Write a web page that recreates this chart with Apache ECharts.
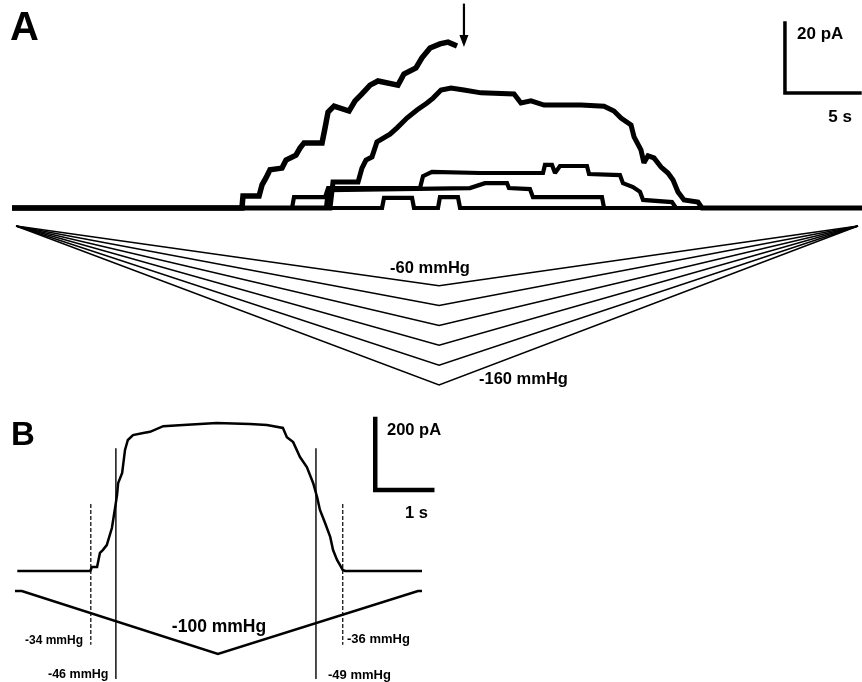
<!DOCTYPE html>
<html><head><meta charset="utf-8">
<script src="https://cdn.jsdelivr.net/npm/echarts@6/dist/echarts.min.js"></script>
<style>html,body{margin:0;padding:0;background:#fff}#c{width:862px;height:682px}</style>
</head><body><div id="c"></div>
<script>
// ---------- DATA (time in s, current in pA, pressure in mmHg) ----------
// Panel A: five current traces
const traceA1_t = [0,15.33,15.4,16.47,16.67,16.93,17.2,18.0,18.27,18.93,19.2,19.47,20.67,20.87,21.07,21.47,22.47,22.87,23.33,23.87,24.4,25.73,26.13,26.93,27.33,27.87,28.53,29.07,29.67];
const traceA1_I = [0,0,3.4,3.4,6.6,8.6,10.9,11.4,13.7,15.1,17.1,18.6,18.6,22.9,27.4,29.1,27.7,30.6,32.6,35.1,36.3,35.1,38.3,40.0,42.9,45.7,46.9,47.4,46.3];
const traceA2_t = [0,21.2,21.4,23.07,23.33,23.6,24.0,24.33,25.2,25.67,26.33,27.0,27.67,28.07,28.6,29.27,30.13,31.27,33.47,33.93,34.6,35.47,37.93,39.47,40.13,40.6,41.27,41.47,41.93,42.13,42.4,42.8,43.27,43.73,44.07,44.4,44.8,45.73,46.0,56.67];
const traceA2_I = [0,0,7.4,7.4,11.4,13.7,14.6,18.9,21.1,22.9,25.7,28.0,30.0,31.4,33.7,34.3,33.7,32.9,32.6,30.0,30.6,29.4,29.4,29.1,27.7,25.7,23.7,20.3,16.6,12.9,14.9,14.3,11.7,10.0,8.0,4.6,2.3,1.7,0,0];
const traceA3_t = [0,18.67,18.8,20.87,21.07,27.2,27.4,28.0,31.2,35.4,35.53,36.0,36.2,36.53,38.33,38.47,40.53,40.73,41.4,41.87,42.07,44.0,44.27,56.67];
const traceA3_I = [0,0,3.1,3.1,5.7,5.7,9.1,10.3,10.0,10.0,12.3,12.3,10.0,12.0,12.0,9.7,9.4,7.1,6.0,4.6,2.3,1.7,0,0];
const traceA4_t = [0,20.93,21.07,30.53,31.53,33.0,33.13,34.53,34.73,39.33,39.47,56.67];
const traceA4_I = [0,0,5.1,5.7,7.1,7.1,5.7,5.4,3.1,3.1,0,0];
const traceA5_t = [0,24.67,24.8,26.67,26.8,28.4,28.53,29.73,29.87,56.67];
const traceA5_I = [0,0,2.9,2.9,0,0,3.1,3.1,0,0];
// Panel A: pressure ramps (start, peak, end time) and peak pressures
const rampA_t = [0.27, 28.47, 56.4];
const rampA_peaks = [-60, -80, -100, -120, -140, -160];
// Panel A: arrow time and scale bar (5 s, 20 pA)
const arrowA_t = 30.13;
const scaleA = {t: 51.53, I: 32.86, dt: 5, dI: 20};

// Panel B: current trace
const traceB_t = [0.04,1.32,1.35,1.44,1.49,1.54,1.61,1.70,1.75,1.79,1.81,1.88,1.93,1.98,2.07,2.25,2.37,2.60,2.95,3.54,4.12,4.42,4.70,4.77,4.88,5.00,5.12,5.23,5.30,5.35,5.44,5.53,5.58,5.65,5.70,5.75,5.79,7.14];
const traceB_I = [0,0,11,11,51,59,73,121,172,214,248,276,341,369,383,389,392,408,411,417,414,411,403,377,363,321,293,248,208,172,135,96,59,31,17,3,0,0];
// Panel B: pressure ramp to -100 mmHg
const rampB_t = [0, 0.12, 3.56, 7.07, 7.14];
const rampB_P = [0, 0, -100, 0, 0];
// Panel B: event markers (threshold -34/-36 dashed, -46/-49 solid)
const dashedB_t = [1.33, 5.75];
const solidB_t = [1.77, 5.28];
const scaleB = {t: 6.32, I: 228, dt: 1, dI: 200};

// ---------- LAYOUT ----------
const gA = {left: 12, top: 0, width: 850, height: 400};
const gB = {left: 15, top: 405, width: 420, height: 277};
const A = {pxPerS: 15, zeroI: 208, pxPerPA: 3.5, zeroP: 226, pxPerMmHg: 0.994};
const B = {pxPerS: 57, zeroI: 571, pxPerPA: 0.355, zeroP: 591, pxPerMmHg: 0.63};
function yRange(g, zeroPx, ppu) {
  return {min: -(g.top + g.height - zeroPx) / ppu, max: (zeroPx - g.top) / ppu};
}
const zip = (a, b) => a.map((v, i) => [v, b[i]]);
const FONT = "'Liberation Sans', Arial, Helvetica, sans-serif";

const series = [];
function line(data, xi, yi, w, extra) {
  series.push(Object.assign({
    type: 'line', data: data, xAxisIndex: xi, yAxisIndex: yi,
    showSymbol: false, symbol: 'none', clip: false, silent: true,
    lineStyle: {color: '#000', width: w, join: 'miter', miterLimit: 2}, z: 3
  }, extra || {}));
}
// Panel A traces
[[traceA1_t, traceA1_I, 5.5], [traceA2_t, traceA2_I, 5], [traceA3_t, traceA3_I, 4.2],
 [traceA4_t, traceA4_I, 4.2], [traceA5_t, traceA5_I, 4.2]].forEach(tr => line(zip(tr[0], tr[1]), 0, 0, tr[2]));
// Panel A ramps
rampA_peaks.forEach(p => line([[rampA_t[0], 0], [rampA_t[1], p], [rampA_t[2], 0]], 0, 1, 1.5));
// Panel A scale bar
line([[scaleA.t, scaleA.I + scaleA.dI], [scaleA.t, scaleA.I], [scaleA.t + scaleA.dt, scaleA.I]], 0, 0, 3.5,
  {lineStyle: {color: '#000', width: 3.5, cap: 'square', join: 'miter'}});
// Panel A arrow
series.push({type: 'line', xAxisIndex: 0, yAxisIndex: 0, clip: false, silent: true,
  data: [{value: [arrowA_t, 58.4], symbol: 'none'},
         {value: [arrowA_t, 48.6], symbol: 'triangle', symbolSize: [9, 12], symbolRotate: 180, symbolOffset: [0, 3]}],
  showSymbol: true, showAllSymbol: true,
  itemStyle: {color: '#000'}, lineStyle: {color: '#000', width: 2.2}});
// Panel B trace
line(zip(traceB_t, traceB_I), 1, 2, 2.5);
// Panel B ramp
line(zip(rampB_t, rampB_P), 1, 3, 2.6);
// Panel B marker lines
dashedB_t.forEach(t => line([[t, 189], [t, -208]], 1, 2, 1.2, {lineStyle: {color: '#000', width: 1.2, type: [4, 2]}}));
solidB_t.forEach(t => line([[t, 346], [t, -304]], 1, 2, 1.4));
// Panel B scale bar
line([[scaleB.t, scaleB.I + scaleB.dI], [scaleB.t, scaleB.I], [scaleB.t + scaleB.dt, scaleB.I]], 1, 2, 4.5,
  {lineStyle: {color: '#000', width: 4.5, cap: 'square', join: 'miter'}});

const yA_I = yRange(gA, A.zeroI, A.pxPerPA), yA_P = yRange(gA, A.zeroP, A.pxPerMmHg);
const yB_I = yRange(gB, B.zeroI, B.pxPerPA), yB_P = yRange(gB, B.zeroP, B.pxPerMmHg);
const hid = {show: false, splitLine: {show: false}};

function txt(s, x, y, size, align) {
  return {type: 'text', x: x, y: y, silent: true, z: 10,
    style: {text: s, fill: '#000', font: 'bold ' + size + 'px ' + FONT, textAlign: align || 'left', textVerticalAlign: 'middle'}};
}

const chart = echarts.init(document.getElementById('c'), null, {renderer: 'canvas'});
chart.setOption({
  animation: false,
  backgroundColor: '#fff',
  grid: [gA, gB],
  xAxis: [
    Object.assign({type: 'value', gridIndex: 0, min: 0, max: gA.width / A.pxPerS}, hid),
    Object.assign({type: 'value', gridIndex: 1, min: 0, max: gB.width / B.pxPerS}, hid)
  ],
  yAxis: [
    Object.assign({type: 'value', gridIndex: 0}, yA_I, hid),
    Object.assign({type: 'value', gridIndex: 0}, yA_P, hid),
    Object.assign({type: 'value', gridIndex: 1}, yB_I, hid),
    Object.assign({type: 'value', gridIndex: 1}, yB_P, hid)
  ],
  series: series,
  graphic: [
    txt('A', 10, 29, 40),
    txt('B', 11, 436, 33),
    txt('20 pA', 797, 34, 17),
    txt('5 s', 852, 117, 17, 'right'),
    txt('-60 mmHg', 430, 268, 16.5, 'center'),
    txt('-160 mmHg', 479, 379, 16.5),
    txt('200 pA', 387, 430, 16.5),
    txt('1 s', 405, 513, 16.5),
    txt('-100 mmHg', 219, 627, 17.5, 'center'),
    txt('-34 mmHg', 25, 641, 12),
    txt('-46 mmHg', 48, 675, 12.5),
    txt('-36 mmHg', 347, 639, 13),
    txt('-49 mmHg', 328, 675, 13)
  ]
});
</script></body></html>
